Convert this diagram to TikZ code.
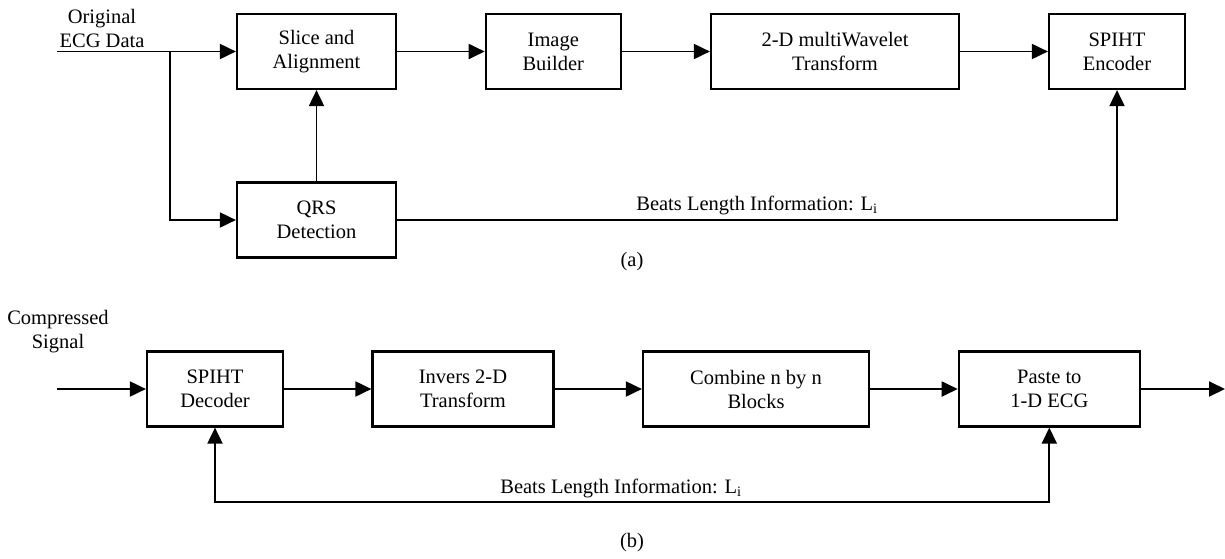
\documentclass[tikz,border=0pt]{standalone}
\usepackage{fontspec}
\setmainfont{Liberation Serif}
\usetikzlibrary{arrows.meta}
\begin{document}
\begin{tikzpicture}[x=1pt,y=-1pt,
  every node/.style={font=\fontsize{20.5}{24}\selectfont},
  blk/.style={draw, line width=2.2pt, inner sep=0pt, align=center, minimum height=75pt},
  lbl/.style={inner sep=0pt, align=center},
  arr/.style={line width=1.9pt, -{Triangle[length=16pt,width=15pt]}},
  ln/.style={line width=1.9pt}]
\useasboundingbox (0,0) rectangle (1225,558);
% (a)
\node[blk, minimum width=159pt] (slice) at (316.5,51.5) {Slice and\\Alignment};
\node[blk, minimum width=135pt] (img) at (553.3,51.5) {Image\\Builder};
\node[blk, minimum width=248pt] (wav) at (835,51.5) {2-D multiWavelet\\Transform};
\node[blk, minimum width=136pt] (enc) at (1117,51.5) {SPIHT\\Encoder};
\node[blk, minimum width=159pt] (qrs) at (316.5,220) {QRS\\Detection};
\coordinate (in1) at (57,51.5);
\coordinate (br) at (170,51.5);
\node[lbl] (orig) at (102,28) {Original\\ECG Data};
\draw[arr] (in1) -- (slice.west);
\draw[arr] (br) |- (qrs.west);
\draw[arr] (qrs.north) -- (slice.south);
\draw[arr] (slice) -- (img);
\draw[arr] (img) -- (wav);
\draw[arr] (wav) -- (enc);
\draw[arr] (qrs.east) -| (enc.south);
\node[lbl, anchor=base] (bla) at (757,210) {Beats Length Information: L\textsubscript{i}};
\node[lbl] (capa) at (632,262) {(a)};
% (b)
\node[blk, minimum width=136pt] (dec) at (215,389) {SPIHT\\Decoder};
\node[blk, minimum width=181pt] (inv) at (463,389) {Invers 2-D\\Transform};
\node[blk, minimum width=226pt] (comb) at (756,389) {Combine n by n\\Blocks};
\node[blk, minimum width=181pt] (paste) at (1049.3,389) {Paste to\\1-D ECG};
\coordinate (in2) at (57,389);
\coordinate (out2) at (1225,389);
\coordinate (fb) at (632,502);
\node[lbl] (comp) at (58,332) {Compressed\\Signal};
\draw[arr] (in2) -- (dec.west);
\draw[arr] (dec) -- (inv);
\draw[arr] (inv) -- (comb);
\draw[arr] (comb) -- (paste);
\draw[arr] (paste.east) -- (out2);
\draw[arr] (fb) -| (dec.south);
\draw[arr] (fb) -| (paste.south);
\node[lbl, anchor=base] (blb) at (621,493) {Beats Length Information: L\textsubscript{i}};
\node[lbl] (capb) at (632,543) {(b)};
\end{tikzpicture}
\end{document}
